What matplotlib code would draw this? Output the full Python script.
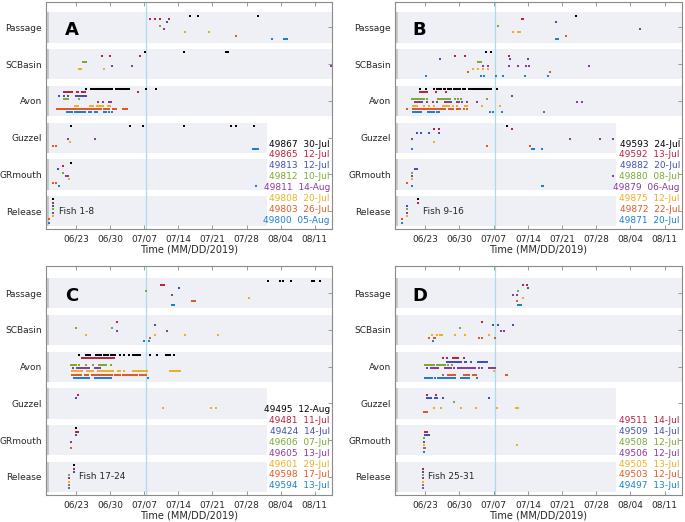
import datetime as dt
import matplotlib
matplotlib.use("Agg")
import matplotlib.pyplot as plt
import matplotlib.dates as mdates
from matplotlib.transforms import blended_transform_factory

plt.rcParams['font.family'] = ['DejaVu Sans']

# ---------------- data ----------------
sites = ["Release", "GRmouth", "Guzzel", "Avon", "SCBasin", "Passage"]
fish_colors = ["#000000", "#B8233F", "#3F51B5", "#77AC30",
               "#8B3A9E", "#EDB120", "#E05A26", "#1B80CF"]
panel_letters = ["A", "B", "C", "D"]
panel_groups = ["Fish 1-8", "Fish 9-16", "Fish 17-24", "Fish 25-31"]
vline_day = 37.35          # day numbers counted from 31 May 2019 (June d = d)

# Panel A  (detection days, June-day numbers)
A_ids = ["49867", "49865", "49813", "49812", "49811", "49808", "49803", "49800"]
A_last = ["30-Jul", "12-Jul", "12-Jul", "10-Jul", "14-Aug", "20-Jul", "26-Jul", "05-Aug"]
A0 = {"Passage": [46.3, 48.1, 60.3], "SCBasin": [37.1, 45.2, 53.7, 54.1],
      "Avon": [24.92, 26.0, 26.3, 26.56, 26.84, 27.25, 27.52, 27.8, 28.07, 28.34, 28.75, 29.03, 29.3,
               29.58, 29.85, 30.26, 31.08, 31.36, 31.63, 31.9, 32.32, 32.73, 33.0, 33.27, 33.55,
               33.82, 37.25, 39.44],
      "Guzzel": [21.9, 34.15, 36.7, 45.1, 54.8, 55.9, 59.55], "GRmouth": [21.84], "Release": [18.34]}
A1 = {"Passage": [38.1, 39.1, 40.2, 42.1], "SCBasin": [28.3, 29.85, 36.1],
      "Avon": [20.4, 20.67, 20.95, 21.22, 21.49, 21.77, 22.2, 23.1, 23.4, 24.2, 24.5, 24.8, 35.7],
      "GRmouth": [20.33], "Release": [18.34]}
A2 = {"Passage": [41.6],
      "Avon": [19.37, 20.4, 21.42, 23.0, 23.34, 23.68, 24.03, 24.37, 24.71, 25.05],
      "GRmouth": [19.3], "Release": [18.34]}
A3 = {"Passage": [40.3], "SCBasin": [24.5, 24.75, 25.0],
      "Avon": [20.6, 20.95, 21.29, 23.68], "GRmouth": [20.33], "Release": [18.34]}
A4 = {"Passage": [41.1], "SCBasin": [30.3, 34.4, 75.4],
      "Avon": [27.38, 28.48, 29.64, 30.05], "Guzzel": [21.36, 26.9],
      "GRmouth": [20.95, 21.4], "Release": [18.34]}
A5 = {"Passage": [45.4, 50.3], "SCBasin": [23.5, 24.0, 28.8],
      "Avon": [22.8, 23.14, 23.41, 25.8, 26.15, 26.5, 27.18, 27.52, 27.86, 28.2, 28.55, 29.58, 29.92],
      "Guzzel": [21.63], "GRmouth": [21.5], "Release": [18.34]}
A6 = {"Passage": [55.9],
      "Avon": [19.03, 19.3, 19.58, 19.85, 20.12, 20.4, 20.67, 21.08, 21.36, 21.63, 22.04, 22.32,
               22.73, 23.14, 23.41, 23.82, 24.1, 24.51, 24.92, 25.33, 25.6, 26.01, 26.42, 26.84,
               27.25, 27.52, 27.79, 28.2, 28.62, 28.89, 29.3, 29.71, 30.53, 30.88, 31.22, 32.59,
               33.0, 33.41],
      "Guzzel": [18.34, 18.9], "GRmouth": [18.2, 18.9], "Release": [17.4]}
A7 = {"Passage": [63.3, 65.7, 66.0, 66.3],
      "Avon": [21.08, 21.42, 21.77, 22.1, 22.8, 23.14, 23.48, 23.82, 24.16, 24.51, 24.85, 25.6,
               25.95, 26.9, 27.25, 28.69, 29.1, 29.71, 30.26],
      "Guzzel": [59.4, 59.7, 60.0, 60.3], "GRmouth": [19.37, 60.0], "Release": [17.4]}

# Panel B
B_ids = ["49593", "49592", "49882", "49880", "49879", "49875", "49872", "49871"]
B_last = ["24-Jul", "13-Jul", "20-Jul", "08-Jul", "06-Aug", "12-Jul", "22-Jul", "20-Jul"]
B0 = {"Passage": [53.8], "SCBasin": [35.4, 36.4],
      "Avon": [21.91, 23.14, 24.77, 25.46, 25.8, 26.28, 26.82, 27.1, 27.64, 27.98, 28.32, 28.87,
               29.28, 29.69, 30.1, 30.65, 31.05, 31.87, 32.28, 32.69, 33.1, 33.51, 33.92, 34.33,
               34.74, 35.15, 35.56, 35.97, 36.52, 37.61],
      "Guzzel": [39.7], "Release": [21.43]}
B1 = {"Passage": [42.7, 43.1], "SCBasin": [29.15, 31.2, 40.05],
      "Avon": [22.0, 22.3, 22.6, 22.9, 23.2, 23.4, 25.1, 27.3],
      "Guzzel": [24.85, 25.85, 40.75], "Release": [21.43]}
B2 = {"Passage": [49.7], "SCBasin": [25.95, 40.3, 44.1], "Avon": [40.7],
      "Guzzel": [21.25, 22.15, 23.7, 25.75], "GRmouth": [20.8, 21.1, 21.4], "Release": [19.25]}
B3 = {"Passage": [37.95], "SCBasin": [33.7, 34.1, 34.5],
      "Avon": [20.27, 20.68, 21.09, 21.5, 21.91, 22.32, 22.73, 23.27, 25.6, 26.0, 26.41, 26.82,
               27.23, 27.64, 27.98, 29.0, 29.69, 30.37, 35.7],
      "GRmouth": [20.3], "Release": [19.25]}
B4 = {"Passage": [66.9], "SCBasin": [34.85, 35.9, 40.1, 42.05, 43.55, 44.2, 56.5],
      "Avon": [20.95, 21.29, 21.63, 21.98, 22.32, 23.27, 24.5, 25.46, 27.1, 27.5, 27.9, 28.3,
               29.4, 29.8, 30.5, 31.46, 33.5, 54.0, 55.1],
      "Guzzel": [20.35, 52.6, 58.7, 61.4], "GRmouth": [20.3, 61.4], "Release": [19.25]}
B5 = {"Passage": [41.0, 41.95, 42.35], "SCBasin": [32.7, 33.7, 34.8, 35.85],
      "Avon": [20.54, 20.95, 21.36, 22.73, 23.82, 24.77, 26.69, 27.1, 27.5, 27.9, 28.7, 29.55,
               31.05, 31.46, 34.6, 38.2],
      "Guzzel": [24.75], "GRmouth": [20.3], "Release": [19.25]}
B6 = {"Passage": [51.8], "SCBasin": [31.7, 48.45],
      "Avon": [19.25, 20.54, 20.88, 21.23, 21.63, 22.04, 22.45, 22.86, 23.27, 23.68, 24.1, 24.5,
               24.9, 25.3, 25.73, 26.14, 26.55, 26.96, 27.78, 28.19, 28.6, 29.4, 29.8, 30.1,
               30.9, 31.46],
      "Guzzel": [35.56, 44.4], "GRmouth": [19.25], "Release": [18.3]}
B7 = {"Passage": [49.8, 50.2], "SCBasin": [23.06, 34.5, 35.0, 37.5, 39.0, 43.5, 48.2],
      "Avon": [20.54, 20.95, 21.36, 21.77, 22.18, 23.55, 23.96, 24.37, 24.77, 25.46, 25.87,
               36.24, 36.93, 38.7, 47.4],
      "Guzzel": [20.3, 44.85, 45.25, 46.9], "GRmouth": [20.3, 46.8, 47.1], "Release": [18.3]}

# Panel C
C_ids = ["49495", "49481", "49424", "49606", "49605", "49601", "49598", "49594"]
C_last = ["12-Aug", "11-Jul", "14-Jul", "07-Jul", "13-Jul", "29-Jul", "17-Jul", "13-Jul"]
C0 = {"Passage": [62.4, 64.95, 65.5, 67.1, 71.4, 71.9, 73.1],
      "Avon": [23.68, 24.92, 25.33, 25.88, 26.97, 27.38, 27.79, 28.14, 28.62, 29.03, 29.51, 30.19,
               30.6, 31.01, 32.04, 32.86, 33.75, 34.64, 35.05, 35.47, 35.88, 36.15, 38.2, 39.58,
               41.36, 41.77, 42.3, 43.14],
      "GRmouth": [22.93], "Release": [22.45]}
C1 = {"Passage": [40.45, 40.8, 41.1], "SCBasin": [31.36],
      "Avon": [24.23, 24.55, 24.9, 25.2, 25.6, 25.9, 26.25, 26.6, 26.95, 27.3, 27.6, 27.95, 28.3,
               28.65, 28.95, 29.3, 29.65, 29.95, 30.35, 30.7],
      "Guzzel": [23.4], "GRmouth": [23.0, 23.3], "Release": [22.45]}
C2 = {"Passage": [44.2], "SCBasin": [39.2], "Guzzel": [23.0], "GRmouth": [22.86],
      "Release": [22.45]}
C3 = {"Passage": [37.3], "SCBasin": [23.0, 30.3],
      "Avon": [21.97, 22.3, 22.6, 22.86, 23.55, 24.92, 26.42, 27.66, 28.0, 28.35, 28.7, 29.03, 30.05],
      "Release": [21.56]}
C4 = {"Passage": [42.7], "SCBasin": [31.36, 41.6],
      "Avon": [22.3, 23.1, 23.45, 23.8, 24.15, 24.5, 24.85, 25.2, 25.6, 26.8, 27.2, 27.55, 27.9],
      "GRmouth": [21.9], "Release": [21.56]}
C5 = {"Passage": [58.6], "SCBasin": [25.0, 39.2, 45.45, 52.2],
      "Avon": [22.18, 22.59, 23.0, 23.41, 23.82, 24.23, 25.19, 25.6, 26.01, 26.42, 27.45, 27.79,
               28.14, 28.48, 28.82, 29.16, 29.51, 29.85, 30.19, 30.53, 31.63, 32.04, 32.73, 34.64,
               35.05, 35.47, 35.88, 36.29, 36.7, 37.11, 37.52, 42.18, 42.59, 43.0, 43.41, 43.96,
               44.23],
      "Guzzel": [40.9, 50.66, 51.75], "Release": [21.56]}
C6 = {"Passage": [46.8, 47.1, 47.4], "SCBasin": [38.2],
      "Avon": [22.04, 22.32, 22.66, 23.0, 23.34, 23.68, 24.03, 24.71, 25.05, 25.4, 26.29, 26.63,
               26.97, 27.32, 27.66, 28.0, 28.34, 28.68, 29.03, 29.37, 29.71, 30.05, 30.4, 30.95,
               31.29, 31.63, 31.9, 32.59, 32.93, 33.27, 33.62, 33.96, 34.5, 34.85, 35.19, 35.47,
               36.01, 36.36, 36.7, 37.04, 37.38],
      "GRmouth": [21.9], "Release": [21.56]}
C7 = {"Passage": [42.6, 43.05], "SCBasin": [37.0, 38.05],
      "Avon": [22.59, 22.93, 23.27, 23.62, 23.96, 24.3, 24.64, 24.99, 25.33, 25.67, 26.77, 27.11,
               27.45, 27.79, 28.14, 28.48, 28.82, 29.16, 29.51, 29.85, 30.19, 37.8],
      "Release": [21.56]}

# Panel D  (no black fish; colours start at index 1)
D_ids = ["49511", "49509", "49508", "49506", "49505", "49503", "49497"]
D_last = ["14-Jul", "14-Jul", "12-Jul", "12-Jul", "13-Jul", "12-Jul", "13-Jul"]
D1 = {"Passage": [43.1, 43.9], "SCBasin": [34.67],
      "Avon": [26.7, 27.5, 28.6, 28.9, 29.2, 29.5, 29.7, 30.9],
      "Guzzel": [23.34, 25.25], "GRmouth": [23.0, 23.3], "Release": [22.45]}
D2 = {"Passage": [44.1], "SCBasin": [36.9, 37.95, 40.9],
      "Avon": [27.5, 27.85, 28.2, 28.55, 28.9, 29.25, 29.6, 29.95, 30.35, 31.05, 31.4, 32.4, 33.8,
               34.15, 34.5, 34.85, 35.2, 35.55],
      "Guzzel": [23.4, 23.8, 24.2, 24.9, 25.35, 26.7, 36.0],
      "GRmouth": [23.0, 23.35, 23.7], "Release": [22.45]}
D3 = {"Passage": [41.9], "SCBasin": [30.1],
      "Avon": [23.0, 23.35, 23.7, 24.05, 24.4, 24.8, 25.3, 25.65, 26.0, 26.35, 26.7, 27.1, 27.6, 28.5],
      "Guzzel": [28.9], "GRmouth": [22.7], "Release": [22.45]}
D4 = {"Passage": [40.9, 41.8], "SCBasin": [38.6, 39.1],
      "Avon": [23.3, 24.1, 24.45, 24.8, 25.15, 25.5, 27.0, 27.35, 27.7, 28.05, 28.3, 28.9, 29.7,
               30.05, 30.4, 30.75, 31.1, 31.45, 31.8, 32.1, 32.45, 32.8, 33.1, 33.9, 34.7, 36.1,
               36.45, 36.8, 37.2],
      "GRmouth": [22.7], "Release": [22.45]}
D5 = {"Passage": [43.07], "SCBasin": [24.43, 25.46, 26.0, 26.5, 29.0, 31.2, 36.0],
      "Avon": [37.06], "Guzzel": [24.7, 26.3, 30.4, 33.4, 37.7, 41.6, 42.0],
      "GRmouth": [22.7, 41.8], "Release": [22.45]}
D6 = {"Passage": [41.8], "SCBasin": [23.8, 24.8, 25.05, 34.05, 34.6, 37.3],
      "Avon": [26.7, 27.6, 27.9, 28.2, 28.5, 28.8, 29.1, 30.9, 31.2, 31.55, 31.9, 32.8, 33.1, 33.4,
               39.5, 39.8],
      "Guzzel": [22.7, 23.0, 23.3], "GRmouth": [22.7, 23.0], "Release": [22.45]}
D7 = {"Passage": [41.9, 42.2, 42.5], "SCBasin": [24.5],
      "Avon": [23.0, 23.35, 23.7, 24.05, 24.4, 25.05, 25.7, 26.05, 26.4, 26.7, 27.0, 27.5, 27.85,
               28.2, 28.55, 28.9, 29.1, 30.4, 30.75, 31.1, 31.45, 31.8, 32.0, 33.65],
      "GRmouth": [22.7], "Release": [22.45]}

panels = [
    (A_ids, A_last, [A0, A1, A2, A3, A4, A5, A6, A7], 0),
    (B_ids, B_last, [B0, B1, B2, B3, B4, B5, B6, B7], 0),
    (C_ids, C_last, [C0, C1, C2, C3, C4, C5, C6, C7], 0),
    (D_ids, D_last, [D1, D2, D3, D4, D5, D6, D7], 1),
]

# ---------------- layout ----------------
W, H = 685, 522
fig = plt.figure(figsize=(W / 100, H / 100), dpi=100)
boxes = [(46, 332, 1.7, 228.5, (0.53, 6.70)),
         (395, 682, 1.7, 228.5, (0.53, 6.70)),
         (46, 332, 266, 495, (0.51, 6.74)),
         (395, 682, 266, 495, (0.51, 6.74))]
base = dt.datetime(2019, 5, 31)


def day2num(d):
    return mdates.date2num(base + dt.timedelta(days=d))


band_col = "#EFEFF6"
strip_col = "#C9C9C9"
spine_col = "#8A8A8A"
txt_col = "#262626"
x0, x1 = day2num(16.8), day2num(75.55)
band_end_low = day2num(62.1)

for p, (ids, last, fishes, k0) in enumerate(panels):
    l, r, t, b, ylim = boxes[p]
    ax = fig.add_axes([l / W, 1 - b / H, (r - l) / W, (b - t) / H])
    ax.set_xlim(x0, x1)
    ax.set_ylim(*ylim)
    # bands
    for i, s in enumerate(sites):
        yc = i + 1
        xe = band_end_low if i < 3 else x1
        ax.fill_between([x0, xe], yc - 0.41, yc + 0.41, color=band_col, lw=0, zorder=0)
        ax.fill_between([x0, day2num(17.45)], yc - 0.41, yc + 0.41, color=strip_col, lw=0, zorder=0.5)
    ax.axvline(day2num(vline_day), color="#A8DDF0", lw=0.9, zorder=1)
    # points
    for j, det in enumerate(fishes):
        k = j + k0
        off = 0.32 - 0.09 * k
        for s, days in det.items():
            yc = sites.index(s) + 1
            xs = [day2num(d) for d in days]
            ax.scatter(xs, [yc + off] * len(xs), s=3.2, marker="s", color=fish_colors[k],
                       linewidths=0, zorder=3, clip_on=True)
    # legend text
    tr = blended_transform_factory(ax.transAxes, ax.transData)
    for j in range(len(ids)):
        k = j + k0
        yy = 0.76 + (7 - k) * 0.295
        ax.text(0.993, yy, f"{ids[j]}  {last[j]}", transform=tr, ha="right", va="center",
                fontsize=6.5, color=fish_colors[k], zorder=4)
    # panel letter and group
    lx = 22.1 if p in (0, 2) else 21.8
    ax.text(day2num(lx), 5.93, panel_letters[p], fontsize=13, fontweight="bold",
            ha="center", va="center", color="black", zorder=4)
    gx = [19.55, 22.5, 23.5, 23.5][p]
    ax.text(day2num(gx), 1.0, panel_groups[p], fontsize=6.5, ha="left", va="center",
            color=txt_col, zorder=4)
    # axes styling
    ax.xaxis.set_major_locator(mdates.WeekdayLocator(byweekday=mdates.SU))
    ax.xaxis.set_major_formatter(mdates.DateFormatter("%m/%d"))
    ax.set_yticks(range(1, 7))
    ax.set_yticklabels(sites)
    ax.tick_params(axis="x", direction="in", length=3, width=0.6, color=spine_col,
                   labelsize=6.5, labelcolor=txt_col, top=True, pad=4)
    ax.tick_params(axis="y", direction="in", length=3, width=0.6, color=spine_col,
                   labelsize=6.5, labelcolor=txt_col, right=True, left=False, pad=3)
    for sp in ax.spines.values():
        sp.set_color(spine_col)
        sp.set_linewidth(0.8)
    ax.set_xlabel("Time (MM/DD/2019)", fontsize=7, color=txt_col, labelpad=1)

fig.savefig("out.png", dpi=100)
